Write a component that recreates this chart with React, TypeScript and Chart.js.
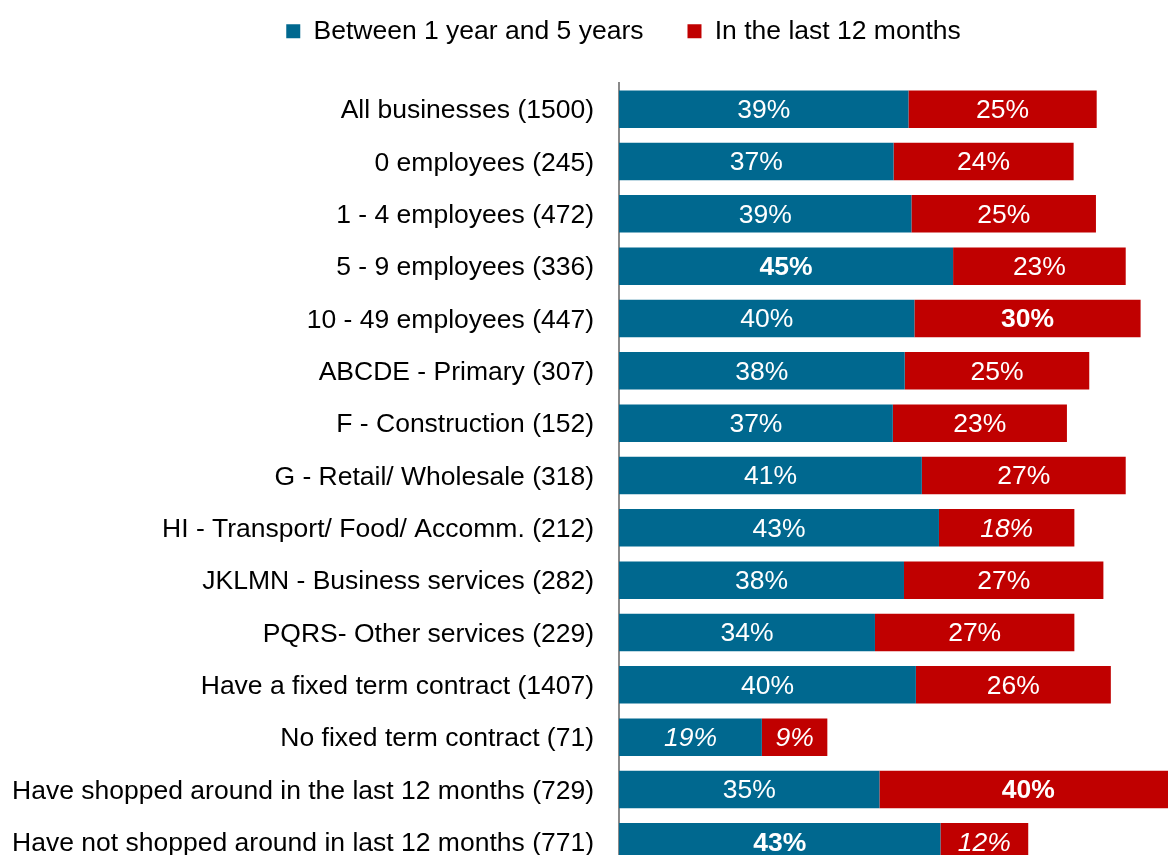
import React, { useEffect, useRef } from "react";
import { Chart, registerables } from "chart.js";

Chart.register(...registerables);

const FONT = '"Liberation Sans", Arial, Helvetica, sans-serif';

const categories = [
  "All businesses (1500)",
  "0 employees (245)",
  "1 - 4 employees (472)",
  "5 - 9 employees (336)",
  "10 - 49 employees (447)",
  "ABCDE - Primary (307)",
  "F - Construction (152)",
  "G - Retail/ Wholesale (318)",
  "HI - Transport/ Food/ Accomm. (212)",
  "JKLMN - Business services (282)",
  "PQRS- Other services (229)",
  "Have a fixed term contract (1407)",
  "No fixed term contract (71)",
  "Have shopped around in the last 12 months (729)",
  "Have not shopped around in last 12 months (771)",
];

const seriesNames = ["Between 1 year and 5 years", "In the last 12 months"];
const seriesColors = ["#00688F", "#C00000"];

const between1And5Years = [38.9, 36.9, 39.3, 44.9, 39.7, 38.4, 36.8, 40.7, 43.0, 38.3, 34.4, 39.9, 19.2, 35.0, 43.2];
const inLast12Months = [25.3, 24.2, 24.8, 23.2, 30.4, 24.8, 23.4, 27.4, 18.2, 26.8, 26.8, 26.2, 8.8, 40.0, 11.8];

// label emphasis: n = normal, b = bold, i = italic
const between1And5Style = ["n", "n", "n", "b", "n", "n", "n", "n", "n", "n", "n", "n", "i", "n", "b"];
const inLast12Style = ["n", "n", "n", "n", "b", "n", "n", "n", "i", "n", "n", "n", "i", "b", "i"];

const xMin = 0;
const xMax = 84.4;

const labelStyles = [between1And5Style, inLast12Style];

const barValueLabels = {
  id: "barValueLabels",
  afterDatasetsDraw(chart: any) {
    const ctx = chart.ctx;
    chart.data.datasets.forEach((ds: any, di: number) => {
      const meta = chart.getDatasetMeta(di);
      meta.data.forEach((el: any, i: number) => {
        const { x, y, base } = el.getProps(["x", "y", "base"], true);
        const st = labelStyles[di][i];
        ctx.save();
        ctx.font = `${st === "i" ? "italic " : ""}${st === "b" ? "bold " : ""}26.5px ${FONT}`;
        ctx.fillStyle = "#ffffff";
        ctx.textAlign = "center";
        ctx.textBaseline = "middle";
        ctx.fillText(Math.round(ds.data[i]) + "%", (x + base) / 2, y + 1.5);
        ctx.restore();
      });
    });
  },
};

export default function App() {
  const ref = useRef<HTMLCanvasElement | null>(null);

  useEffect(() => {
    if (!ref.current) return;
    const chart = new Chart(ref.current, {
      type: "bar",
      data: {
        labels: categories,
        datasets: [
          {
            label: seriesNames[0],
            data: between1And5Years,
            backgroundColor: seriesColors[0],
            borderWidth: 0,
            barPercentage: 0.716,
            categoryPercentage: 1,
          },
          {
            label: seriesNames[1],
            data: inLast12Months,
            backgroundColor: seriesColors[1],
            borderWidth: 0,
            barPercentage: 0.716,
            categoryPercentage: 1,
          },
        ],
      },
      options: {
        indexAxis: "y",
        responsive: false,
        animation: false,
        devicePixelRatio: 1,
        layout: { padding: 0 },
        plugins: {
          legend: {
            display: true,
            position: "top",
            labels: {
              boxWidth: 14,
              boxHeight: 14,
              padding: 44,
              color: "#000000",
              font: { family: FONT, size: 26.5 },
            },
          },
          tooltip: { enabled: false },
        },
        scales: {
          x: {
            stacked: true,
            position: "top",
            min: xMin,
            max: xMax,
            display: true,
            grid: { display: false, drawTicks: false },
            border: { display: false },
            ticks: { display: false },
            afterFit: (s: any) => {
              s.height = 28.5;
            },
          },
          y: {
            stacked: true,
            grid: { display: false, drawTicks: false },
            border: { display: true, color: "#8a8a8a", width: 2 },
            ticks: {
              autoSkip: false,
              padding: 25,
              labelOffset: 2,
              color: "#000000",
              font: { family: FONT, size: 26.5 },
            },
            afterFit: (s: any) => {
              s.width = 619;
              s.paddingTop = 0;
              s.paddingBottom = 0;
            },
          },
        },
      },
      plugins: [barValueLabels],
    } as any);
    return () => chart.destroy();
  }, []);

  return (
    <div
      style={{
        position: "fixed",
        left: 0,
        top: 0,
        width: 1168,
        height: 855,
        overflow: "hidden",
        background: "#ffffff",
      }}
    >
      <canvas
        ref={ref}
        width={1247}
        height={894}
        style={{ position: "absolute", left: 0, top: -26, width: 1247, height: 894 }}
      />
    </div>
  );
}
